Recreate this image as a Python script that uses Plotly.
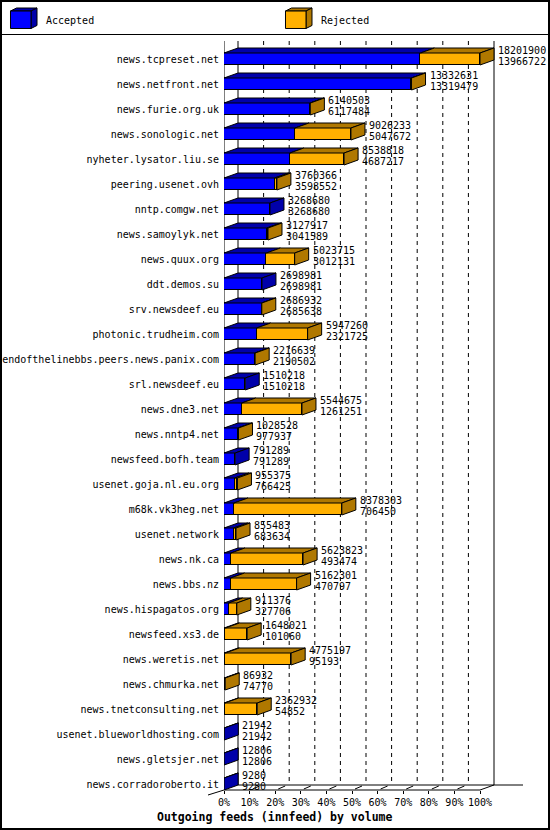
import plotly.graph_objects as go


# Outgoing innfeed peers, sorted by accepted volume
hosts = [
    "news.tcpreset.net", "news.netfront.net", "news.furie.org.uk",
    "news.sonologic.net", "nyheter.lysator.liu.se", "peering.usenet.ovh",
    "nntp.comgw.net", "news.samoylyk.net", "news.quux.org", "ddt.demos.su",
    "srv.newsdeef.eu", "photonic.trudheim.com",
    "endofthelinebbs.peers.news.panix.com", "srl.newsdeef.eu", "news.dne3.net",
    "news.nntp4.net", "newsfeed.bofh.team", "usenet.goja.nl.eu.org",
    "m68k.vk3heg.net", "usenet.network", "news.nk.ca", "news.bbs.nz",
    "news.hispagatos.org", "newsfeed.xs3.de", "news.weretis.net",
    "news.chmurka.net", "news.tnetconsulting.net", "usenet.blueworldhosting.com",
    "news.gletsjer.net", "news.corradoroberto.it",
]
offered = [
    18201900, 13332631, 6140503, 9026233, 8538818, 3760366, 3268680, 3127917,
    5023715, 2698981, 2686932, 5947260, 2216639, 1510218, 5544675, 1028528,
    791289, 955375, 8378303, 855483, 5623823, 5162301, 911376, 1648021,
    4775197, 86932, 2362932, 21942, 12806, 9280,
]
accepted = [
    13966722, 13319479, 6117484, 5047672, 4687217, 3598552, 3268680, 3041589,
    3012131, 2698981, 2685638, 2321725, 2190502, 1510218, 1261251, 977937,
    791289, 766425, 706450, 683634, 493474, 470797, 327706, 101060,
    95193, 74770, 54852, 21942, 12806, 9280,
]
x_ticks = list(range(0, 101, 10))

BLUE, BLUE_D = "#0000ff", "#0000aa"
ORANGE, ORANGE_D = "#ffb000", "#b07800"
FONT = "DejaVu Sans Mono"

# page geometry (pixels)
W, H = 550, 830
L, R, T, B = 224, 3, 37, 40
PW, PH = W - L - R, H - T - B
PX_PCT = 2.56          # pixels per percent
ROW0, ROW = 59, 25     # first row centre, row pitch
XMAX = PW / PX_PCT
Y_TOP = (T - ROW0) / ROW
Y_BOT = (H - B - ROW0) / ROW

DX = 14 / PX_PCT       # 3d depth in x units
DY = 5 / ROW           # 3d depth in row units
HALF = 0.24


def xp(px):
    return (px - L) / PW


def yp(py):
    return (H - B - py) / PH


def path(pts):
    return "M " + " L ".join(f"{x:.4f},{y:.4f}" for x, y in pts) + " Z"


def face(pts, color, ref="data"):
    xr, yr = ("x", "y") if ref == "data" else ("paper", "paper")
    return dict(type="path", path=path(pts), xref=xr, yref=yr,
                fillcolor=color, line=dict(color="black", width=1), layer="above")


def line(x0, y0, x1, y1, xref="paper", yref="paper", dash="solid", layer="below"):
    return dict(type="line", x0=x0, y0=y0, x1=x1, y1=y1, xref=xref, yref=yref,
                line=dict(color="black", width=1, dash=dash), layer=layer)


top = max(offered)
acc_pct = [a / top * 100 for a in accepted]
tot_pct = [o / top * 100 for o in offered]
rej_pct = [t - a for t, a in zip(tot_pct, acc_pct)]
rows = list(range(len(hosts)))

fig = go.Figure()
fig.add_trace(go.Bar(y=rows, x=acc_pct, orientation="h", width=2 * HALF,
                     marker=dict(color=BLUE, line=dict(color="black", width=1)),
                     name="Accepted", showlegend=False, hoverinfo="skip"))
fig.add_trace(go.Bar(y=rows, x=rej_pct, orientation="h", width=2 * HALF,
                     marker=dict(color=ORANGE, line=dict(color="black", width=1)),
                     name="Rejected", showlegend=False, hoverinfo="skip"))

shapes = []
annotations = []

# back wall grid
back_bottom = (785 - ROW0) / ROW
wall_top = (41 - ROW0) / ROW
for k in x_ticks[1:]:
    shapes.append(line(k + DX, wall_top, k + DX, back_bottom, "x", "y",
                       "solid" if k == 100 else "4px,4px"))
shapes.append(line(DX, wall_top, DX, back_bottom, "x", "y"))
shapes.append(line(0, wall_top, 0, Y_BOT, "x", "y"))

# floor
shapes.append(line(xp(L + DX * PX_PCT), yp(785), xp(523), yp(785)))
shapes.append(line(xp(208), yp(795), xp(L), yp(790)))
shapes.append(line(xp(L), yp(790), xp(L + 100 * PX_PCT), yp(790)))
shapes.append(line(xp(L + 100 * PX_PCT), yp(790), xp(L + 100 * PX_PCT + 14), yp(785)))
for k in x_ticks[1:-1]:
    px = L + k * PX_PCT
    shapes.append(line(xp(px + 3), yp(789), xp(px + 10), yp(786), layer="above"))

# 3d faces of the bars
for i, a, t, r in zip(rows, acc_pct, tot_pct, rej_pct):
    yt = i - HALF
    segs = []
    if a > 0:
        segs.append((0, a, BLUE_D))
    if r > 0:
        segs.append((a, t, ORANGE_D))
    for x0, x1, c in segs:
        shapes.append(face([(x0, yt), (x0 + DX, yt - DY), (x1 + DX, yt - DY), (x1, yt)], c))
    side = ORANGE_D if r > 0 else BLUE_D
    shapes.append(face([(t, yt), (t + DX, yt - DY), (t + DX, i + HALF - DY), (t, i + HALF)], side))

    annotations.append(dict(x=t + DX, y=i, xref="x", yref="y", xanchor="left", yanchor="middle",
                            text=str(offered[i]), showarrow=False, xshift=2, yshift=9,
                            font=dict(family=FONT, size=10, color="black")))
    annotations.append(dict(x=t + DX, y=i, xref="x", yref="y", xanchor="left", yanchor="middle",
                            text=str(accepted[i]), showarrow=False, xshift=2, yshift=-2,
                            font=dict(family=FONT, size=10, color="black")))

# legend boxes
for x0, color, dark, label in [(10.5, BLUE, BLUE_D, "Accepted"), (285.5, ORANGE, ORANGE_D, "Rejected")]:
    x1, y0, y1 = x0 + 20.5, 11, 28.5
    shapes.append(face([(xp(x0), yp(y0)), (xp(x0 + 6), yp(y0 - 3)), (xp(x1 + 6), yp(y0 - 3)), (xp(x1), yp(y0))], dark, "paper"))
    shapes.append(face([(xp(x1), yp(y0)), (xp(x1 + 6), yp(y0 - 3)), (xp(x1 + 6), yp(y1 - 3)), (xp(x1), yp(y1))], dark, "paper"))
    shapes.append(face([(xp(x0), yp(y0)), (xp(x1), yp(y0)), (xp(x1), yp(y1)), (xp(x0), yp(y1))], color, "paper"))
    annotations.append(dict(x=xp(x0 + 33), y=yp(20), xref="paper", yref="paper", xanchor="left",
                            yanchor="middle", text=label, showarrow=False,
                            font=dict(family=FONT, size=10, color="black")))

# frame and legend separator
shapes.append(dict(type="rect", x0=xp(1), y0=yp(1), x1=xp(549), y1=yp(829), xref="paper", yref="paper",
                   line=dict(color="black", width=2), layer="above"))
shapes.append(line(xp(0), yp(34.5), xp(W), yp(34.5)))

annotations.append(dict(x=xp(274), y=yp(817), xref="paper", yref="paper", xanchor="center",
                        yanchor="middle", showarrow=False,
                        text="<b>Outgoing feeds (innfeed) by volume</b>",
                        font=dict(family=FONT, size=11.5, color="black")))

fig.update_layout(
    width=W, height=H,
    margin=dict(l=L, r=R, t=T, b=B, pad=0),
    paper_bgcolor="white", plot_bgcolor="white",
    barmode="stack", bargap=0,
    font=dict(family=FONT, size=10, color="black"),
    shapes=shapes, annotations=annotations,
    xaxis=dict(range=[0, XMAX], tickvals=x_ticks, ticktext=[f"{k}%" for k in x_ticks],
               ticks="outside", ticklen=3, tickcolor="black", showgrid=False, zeroline=False,
               showline=False, fixedrange=True, tickfont=dict(family=FONT, size=10)),
    yaxis=dict(range=[Y_BOT, Y_TOP], tickvals=rows, ticktext=hosts, ticks="",
               showgrid=False, zeroline=False, showline=False, fixedrange=True,
               ticklabelstandoff=4, tickfont=dict(family=FONT, size=10)),
)

fig.write_html("out.html", config={"displayModeBar": False},
               post_script="document.body.style.margin='0';")
